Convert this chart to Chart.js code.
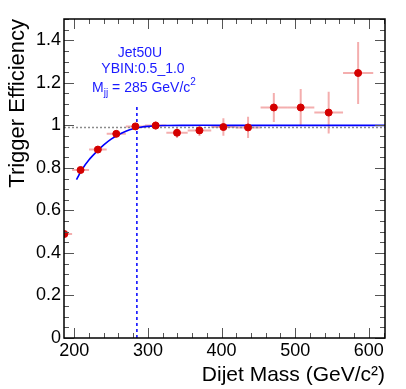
<!DOCTYPE html>
<html>
<head>
<meta charset="utf-8">
<script src="https://cdn.jsdelivr.net/npm/chart.js@4.4.0/dist/chart.umd.min.js"></script>
<style>
html, body { margin: 0; padding: 0; background: #fff; }
</style>
</head>
<body>
<canvas id="grafico" width="406" height="389"></canvas>
<script>
// centro dos bins de massa (GeV/c2) e meia largura
const massa = [186.5, 208.5, 232, 257, 283, 310.5, 339.5, 370, 402.5, 436, 471, 507.5, 545.5, 585.5];
const meiaLargura = [10.5, 11.5, 12, 13, 13, 14.5, 14.5, 16, 16.5, 17, 18, 18.5, 19.5, 20.5];
const eficiencia = [0.489, 0.79, 0.886, 0.96, 0.995, 0.999, 0.965, 0.976, 0.992, 0.99, 1.084, 1.084, 1.06, 1.246];
const erroEfic = [0.006, 0.008, 0.008, 0.008, 0.012, 0.02, 0.024, 0.026, 0.041, 0.05, 0.068, 0.087, 0.098, 0.146];

// curva do fit
const fitMassa = [203, 210, 220, 230, 240, 250, 260, 270, 280, 290, 300, 320, 350, 400, 622];
const fitEfic = [0.745, 0.79, 0.838, 0.875, 0.908, 0.935, 0.956, 0.972, 0.984, 0.991, 0.995, 0.999, 1.0, 1.0, 1.0];

const xTicks = [200, 300, 400, 500, 600];
const yTicks = [0, 0.2, 0.4, 0.6, 0.8, 1, 1.2, 1.4];
const xMin = 186, xMax = 622, yMin = 0, yMax = 1.5;
const mjj = 285;
const mjjTopo = 1.1;
const linhaPlato = 0.99;

const FONTE = '"Liberation Sans", Arial, Helvetica, sans-serif';

const pontos = massa.map((m, i) => ({ x: m, y: eficiencia[i] }));
const curva = fitMassa.map((m, i) => ({ x: m, y: fitEfic[i] }));

// barras de erro + ticks para dentro (estilo ROOT) + textos
const pluginRoot = {
    id: 'pluginRoot',
    beforeDatasetsDraw(chart) {
        const ctx = chart.ctx;
        const sx = chart.scales.x, sy = chart.scales.y;
        const area = chart.chartArea;
        ctx.save();
        ctx.beginPath();
        ctx.rect(area.left, area.top, area.right - area.left, area.bottom - area.top);
        ctx.clip();
        ctx.strokeStyle = 'rgba(236,120,120,0.6)';
        ctx.lineWidth = 2;
        massa.forEach((m, i) => {
            const px = sx.getPixelForValue(m);
            const py = sy.getPixelForValue(eficiencia[i]);
            ctx.beginPath();
            ctx.moveTo(sx.getPixelForValue(m - meiaLargura[i]), py);
            ctx.lineTo(sx.getPixelForValue(m + meiaLargura[i]), py);
            ctx.moveTo(px, sy.getPixelForValue(eficiencia[i] - erroEfic[i]));
            ctx.lineTo(px, sy.getPixelForValue(eficiencia[i] + erroEfic[i]));
            ctx.stroke();
        });
        ctx.restore();
    },
    afterDraw(chart) {
        const ctx = chart.ctx;
        const sx = chart.scales.x, sy = chart.scales.y;
        const a = chart.chartArea;
        ctx.save();

        // ticks
        ctx.strokeStyle = '#555';
        ctx.lineWidth = 1;
        ctx.beginPath();
        for (let v = 180; v <= xMax; v += 20) {
            if (v < xMin) continue;
            const px = Math.round(sx.getPixelForValue(v)) + 0.5;
            const len = (v % 100 === 0) ? 10 : 5;
            ctx.moveTo(px, a.bottom); ctx.lineTo(px, a.bottom - len);
            ctx.moveTo(px, a.top); ctx.lineTo(px, a.top + len);
        }
        for (let k = 0; k <= 30; k++) {
            const v = k * 0.05;
            const py = Math.round(sy.getPixelForValue(v)) + 0.5;
            const len = (k % 4 === 0) ? 10 : 5;
            ctx.moveTo(a.left, py); ctx.lineTo(a.left + len, py);
            ctx.moveTo(a.right, py); ctx.lineTo(a.right - len, py);
        }
        ctx.stroke();

        // moldura
        ctx.strokeStyle = '#000';
        ctx.lineWidth = 1.5;
        ctx.strokeRect(a.left, a.top, a.right - a.left, a.bottom - a.top);

        // titulos dos eixos
        ctx.fillStyle = '#000';
        ctx.font = '21px ' + FONTE;
        ctx.textAlign = 'right';
        ctx.textBaseline = 'alphabetic';
        ctx.fillText('Dijet Mass (GeV/c²)', a.right, 381);

        ctx.save();
        ctx.translate(24, a.top);
        ctx.rotate(-Math.PI / 2);
        ctx.textAlign = 'right';
        ctx.font = '22px ' + FONTE;
        ctx.fillText('Trigger Efficiency', 0, 0);
        ctx.restore();

        // textos azuis
        ctx.fillStyle = '#1a1aff';
        ctx.textAlign = 'center';
        ctx.font = '14px ' + FONTE;
        ctx.fillText('Jet50U', 140, 57);
        ctx.fillText('YBIN:0.5_1.0', 143, 73);

        // M_jj = 285 GeV/c^2
        const partes = [
            { t: 'M', f: 14, dy: 0 },
            { t: 'jj', f: 10, dy: 4 },
            { t: ' = ' + mjj + ' GeV/c', f: 14, dy: 0 },
            { t: '2', f: 10, dy: -7 }
        ];
        let larg = 0;
        partes.forEach(p => { ctx.font = p.f + 'px ' + FONTE; larg += ctx.measureText(p.t).width; });
        let x0 = 144 - larg / 2;
        ctx.textAlign = 'left';
        partes.forEach(p => {
            ctx.font = p.f + 'px ' + FONTE;
            ctx.fillText(p.t, x0, 92 + p.dy);
            x0 += ctx.measureText(p.t).width;
        });

        ctx.restore();
    }
};

new Chart(document.getElementById('grafico'), {
    type: 'scatter',
    data: {
        datasets: [
            {
                label: 'dados',
                data: pontos,
                backgroundColor: '#d40000',
                borderColor: '#d40000',
                pointRadius: 3.5,
                pointHoverRadius: 3.5,
                order: 0
            },
            {
                label: 'fit',
                data: curva,
                showLine: true,
                borderColor: '#0000ff',
                borderWidth: 1.6,
                pointRadius: 0,
                tension: 0.3,
                order: 1
            },
            {
                label: 'plato',
                data: [{ x: xMin, y: linhaPlato }, { x: xMax, y: linhaPlato }],
                showLine: true,
                borderColor: '#8c8c8c',
                borderWidth: 1.6,
                borderDash: [2, 2],
                pointRadius: 0,
                order: 2
            },
            {
                label: 'mjj',
                data: [{ x: mjj, y: yMin }, { x: mjj, y: mjjTopo }],
                showLine: true,
                borderColor: '#0000ff',
                borderWidth: 1.5,
                borderDash: [3, 3],
                pointRadius: 0,
                order: 3
            }
        ]
    },
    options: {
        responsive: false,
        devicePixelRatio: 1,
        animation: false,
        layout: { padding: { top: 19, right: 21, left: 0, bottom: 0 } },
        plugins: {
            legend: { display: false },
            tooltip: { enabled: false }
        },
        scales: {
            x: {
                type: 'linear',
                min: xMin,
                max: xMax,
                afterBuildTicks: s => { s.ticks = xTicks.map(v => ({ value: v })); },
                afterFit: s => { s.height = 51; },
                grid: { display: false, drawTicks: false },
                border: { display: false },
                ticks: {
                    padding: 2,
                    color: '#000',
                    font: { family: FONTE, size: 18 },
                    maxRotation: 0,
                    callback: v => String(v)
                }
            },
            y: {
                type: 'linear',
                min: yMin,
                max: yMax,
                afterBuildTicks: s => { s.ticks = yTicks.map(v => ({ value: v })); },
                afterFit: s => { s.width = 64; },
                grid: { display: false, drawTicks: false },
                border: { display: false },
                ticks: {
                    padding: 3,
                    color: '#000',
                    font: { family: FONTE, size: 18 },
                    callback: v => String(v)
                }
            }
        }
    },
    plugins: [pluginRoot]
});
</script>
</body>
</html>
